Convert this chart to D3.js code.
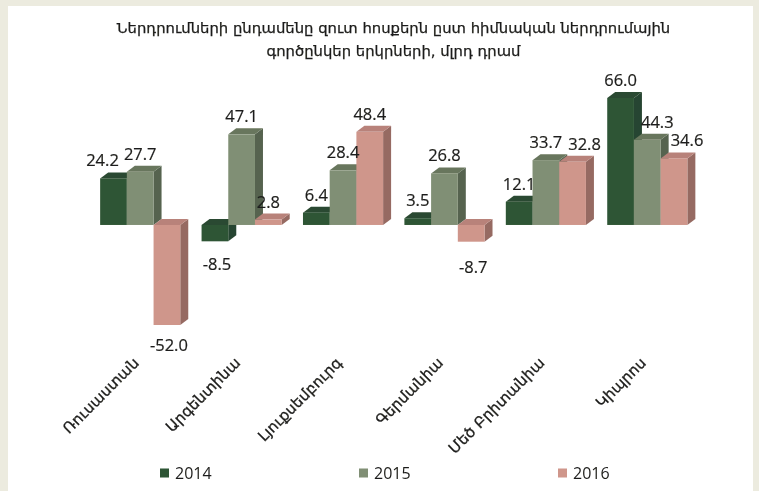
<!DOCTYPE html>
<html>
<head>
<meta charset="utf-8">
<script src="https://cdnjs.cloudflare.com/ajax/libs/d3/7.8.5/d3.min.js"></script>
<style>
  html, body { margin: 0; padding: 0; background: #ecebdf; }
  svg { display: block; }
</style>
</head>
<body>
<svg id="chart"></svg>
<script>
const titleLines = [
  "Ներդրումների ընդամենը զուտ հոսքերն ըստ հիմնական ներդրումային",
  "գործընկեր երկրների, մլրդ դրամ"
];
const categories = ["Ռուսաստան", "Արգենտինա", "Լյուքսեմբուրգ", "Գերմանիա", "Մեծ Բրիտանիա", "Կիպրոս"];
const years = ["2014", "2015", "2016"];
const values2014 = [24.2, -8.5, 6.4, 3.5, 12.1, 66.0];
const values2015 = [27.7, 47.1, 28.4, 26.8, 33.7, 44.3];
const values2016 = [-52.0, 2.8, 48.4, -8.7, 32.8, 34.6];
const seriesValues = [values2014, values2015, values2016];

const width = 759;
const height = 491;
const depthX = 8;
const depthY = 6;
const textColor = "#1d1d1b";

const colors = {
  "2014": { front: "#2e5434", top: "#2b4a30", side: "#274530" },
  "2015": { front: "#808f74", top: "#68765d", side: "#566450" },
  "2016": { front: "#cf968b", top: "#b8827a", side: "#966a62" }
};

const svg = d3.select("#chart").attr("width", width).attr("height", height);

// the reference is a soft scan, so everything gets a slight blur
svg.append("defs").append("filter")
  .attr("id", "soft")
  .attr("filterUnits", "userSpaceOnUse")
  .attr("x", 0).attr("y", 0).attr("width", width).attr("height", height)
  .append("feGaussianBlur").attr("stdDeviation", 0.5);

// white page panel
svg.append("rect").attr("x", 8).attr("y", 6).attr("width", 745).attr("height", 485).attr("fill", "#fff");

const root = svg.append("g").attr("filter", "url(#soft)");

const x0 = d3.scaleBand().domain(categories).range([89.5, 698]).paddingInner(0.21).paddingOuter(0.105);
const x1 = d3.scaleBand().domain(years).range([0, x0.bandwidth()]);
const y = d3.scaleLinear().domain([-52, 66]).range([325, 98]);

// hand placed labels in the original, [dx, dy] from the default spot
const labelNudge = {
  "2014-0": [-11, 0],
  "2014-1": [0, 2],
  "2016-0": [0, -1],
  "2016-3": [0, 4],
  "2016-4": [12, 0],
  "2015-5": [10, 0],
  "2016-5": [13, 0]
};

// bars
years.forEach((year, s) => {
  const g = root.append("g");
  const c = colors[year];
  categories.forEach((cat, i) => {
    const v = seriesValues[s][i];
    const left = x0(cat) + x1(year);
    const right = left + x1.bandwidth();
    const top = Math.min(y(v), y(0));
    const bottom = Math.max(y(v), y(0));
    g.append("polygon")
      .attr("points", [[right, top], [right + depthX, top - depthY], [right + depthX, bottom - depthY], [right, bottom]].join(" "))
      .attr("fill", c.side);
    g.append("polygon")
      .attr("points", [[left, top], [left + depthX, top - depthY], [right + depthX, top - depthY], [right, top]].join(" "))
      .attr("fill", c.top);
    g.append("rect")
      .attr("x", left).attr("y", top)
      .attr("width", x1.bandwidth()).attr("height", bottom - top)
      .attr("fill", c.front);
  });
});

// data labels
years.forEach((year, s) => {
  categories.forEach((cat, i) => {
    const v = seriesValues[s][i];
    const nudge = labelNudge[year + "-" + i] || [0, 0];
    const cx = x0(cat) + x1(year) + x1.bandwidth() / 2;
    const base = v >= 0 ? y(v) - 12 : y(v) + 27;
    root.append("text")
      .attr("x", cx + (v < 0 ? 2 : 0) + nudge[0])
      .attr("y", base + nudge[1])
      .attr("text-anchor", "middle")
      .attr("font-family", "Open Sans")
      .attr("font-size", 16.5)
      .attr("stroke", textColor)
      .attr("stroke-width", 0.2)
      .attr("fill", textColor)
      .text(v.toFixed(1));
  });
});

// title
root.append("g").selectAll("text")
  .data(titleLines)
  .join("text")
  .attr("x", 393.5)
  .attr("y", (d, i) => 33 + i * 22.5)
  .attr("text-anchor", "middle")
  .attr("font-family", "DejaVu Sans")
  .attr("font-size", 14.8)
  .attr("stroke", textColor)
  .attr("stroke-width", 0.25)
  .attr("fill", textColor)
  .text(d => d);

// category labels
const xAxis = d3.axisBottom(x0).tickSize(0).tickPadding(0);
const axisG = root.append("g").attr("transform", "translate(-4,360)").call(xAxis);
axisG.select(".domain").remove();
axisG.selectAll("text")
  .attr("font-family", "DejaVu Sans")
  .attr("font-size", 15)
  .attr("stroke", textColor)
  .attr("stroke-width", 0.3)
  .attr("fill", textColor)
  .attr("text-anchor", "end")
  .attr("dy", "0.35em")
  .attr("transform", "rotate(-45)");

// legend
const legendX = d3.scalePoint().domain(years).range([160, 558]);
const legend = root.append("g").selectAll("g")
  .data(years)
  .join("g")
  .attr("transform", d => `translate(${legendX(d)},473)`);
legend.append("rect")
  .attr("x", 0).attr("y", -4.5)
  .attr("width", 9).attr("height", 9)
  .attr("fill", d => colors[d].front);
legend.append("text")
  .attr("x", 15).attr("y", 5.5)
  .attr("font-family", "Open Sans")
  .attr("font-size", 16)
  .attr("fill", textColor)
  .text(d => d);
</script>
</body>
</html>
